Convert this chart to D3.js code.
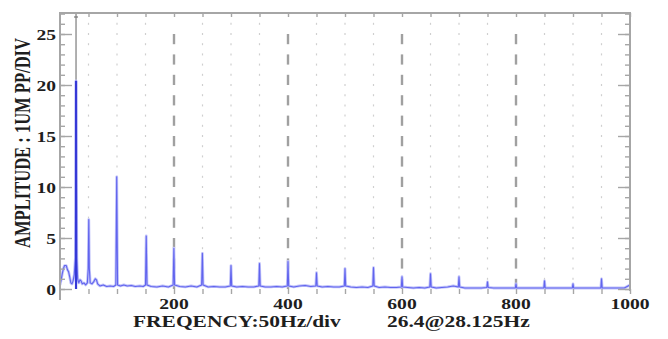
<!DOCTYPE html>
<html>
<head>
<meta charset="utf-8">
<script src="https://cdn.jsdelivr.net/npm/d3@7/dist/d3.min.js"></script>
<style>
  html, body { margin: 0; padding: 0; background: #fff; }
  svg { display: block; }
  text { font-family: "Liberation Serif", "Times New Roman", serif; font-weight: bold; fill: #1e1e1e; }
</style>
</head>
<body>
<svg id="chart" width="668" height="339"></svg>
<script>
// Vibration spectrum: frequency (Hz) and amplitude (um pp)
const freqHz = [
  0, 2, 4, 6, 8, 11, 13, 15, 17, 19, 21, 23, 25, 27, 28.125, 29.5, 31, 33, 35, 37, 39, 42, 45, 48,
  49.5, 50.5, 51.5, 53, 56, 59, 62, 64, 66, 70, 76, 82, 88, 94, 98, 99.5, 101, 106, 112, 118, 125,
  132, 140, 146, 150, 151.3, 152.6, 160, 170, 180, 190, 198.5, 199.8, 201, 210, 220, 230, 240,
  248.5, 249.8, 251, 260, 270, 280, 290, 298.8, 300, 301.2, 310, 320, 330, 340, 348.8, 350, 351.2,
  360, 370, 380, 390, 398.8, 400, 401.2, 410, 420, 430, 440, 448.8, 450, 451.2, 460, 470, 480, 490,
  498.8, 500, 501.2, 510, 520, 530, 540, 548.8, 550, 551.2, 560, 570, 580, 590, 598.8, 600, 601.2,
  610, 620, 630, 640, 648.8, 650, 651.2, 660, 670, 680, 690, 698.8, 700, 701.2, 710, 720, 730, 740,
  748.8, 750, 751.2, 760, 780, 798.8, 800, 801.2, 820, 840, 848.8, 850, 851.2, 870, 890, 898.8, 900,
  901.2, 920, 940, 948.8, 950, 951.2, 970, 990, 1000
];
const amplitude = [
  0.4, 0.9, 1.5, 2.0, 2.3, 2.3, 1.9, 1.7, 1.2, 0.6, 0.5, 0.8, 1.4, 3.0, 20.4, 3.0, 1.0, 0.6, 0.9, 0.8, 0.5, 0.6, 0.4, 0.6,
  2.0, 6.8, 2.0, 0.6, 0.5, 0.7, 1.0, 0.9, 0.5, 0.3, 0.4, 0.25, 0.3, 0.25, 0.4, 11.0, 0.4, 0.3, 0.4, 0.3, 0.35,
  0.25, 0.3, 0.25, 0.4, 5.2, 0.4, 0.25, 0.2, 0.3, 0.2, 0.4, 4.0, 0.4, 0.25, 0.2, 0.3, 0.2,
  0.4, 3.5, 0.4, 0.2, 0.25, 0.2, 0.2, 0.3, 2.3, 0.3, 0.2, 0.25, 0.2, 0.2, 0.3, 2.5, 0.3,
  0.2, 0.2, 0.25, 0.2, 0.3, 2.7, 0.3, 0.2, 0.3, 0.35, 0.25, 0.3, 1.6, 0.3, 0.2, 0.25, 0.2, 0.2,
  0.3, 2.0, 0.3, 0.2, 0.15, 0.2, 0.15, 0.3, 2.1, 0.3, 0.15, 0.2, 0.15, 0.15, 0.2, 1.2, 0.2,
  0.15, 0.1, 0.15, 0.1, 0.2, 1.5, 0.2, 0.1, 0.15, 0.2, 0.3, 0.2, 1.2, 0.2, 0.1, 0.1, 0.1, 0.1,
  0.15, 0.7, 0.15, 0.1, 0.1, 0.1, 0.5, 0.1, 0.1, 0.1, 0.1, 0.8, 0.1, 0.1, 0.1, 0.1, 0.5,
  0.1, 0.1, 0.1, 0.1, 1.0, 0.1, 0.1, 0.1, 0.4
];
const xTickLabels = [200, 400, 600, 800, 1000];
const yTickLabels = [0, 5, 10, 15, 20, 25];
const cursorFreq = 28.125;
const cursorReadout = "26.4@28.125Hz";
const xTitle = "FREQENCY:50Hz/div";
const yTitle = "AMPLITUDE : 1UM PP/DIV";

const svg = d3.select("#chart");
const plotLeft = 60, plotRight = 630, plotTop = 13;
const x = d3.scaleLinear().domain([0, 1000]).range([plotLeft, plotRight]);
const y = d3.scaleLinear().domain([0, 27]).range([289, 13.6]);
const frameColor = "#a6a6a6";
const stretch = 1.3;

// stretch a text element horizontally by a factor
function widen(sel, k) {
  sel.each(function () {
    const len = this.getComputedTextLength();
    d3.select(this).attr("textLength", len * k).attr("lengthAdjust", "spacingAndGlyphs");
  });
}

const fine = d3.range(50, 1000, 50);
const major = fine.filter(f => f % 200 === 0);
const minor = fine.filter(f => f % 200 !== 0);
const units = d3.range(1, 27);

// light dotted grid at every 50 Hz
const grid = svg.append("g");
minor.forEach(f => {
  grid.append("g").selectAll("line").data(units).join("line")
    .attr("x1", x(f)).attr("x2", x(f))
    .attr("y1", d => y(d) - 1).attr("y2", d => y(d) + 1)
    .attr("stroke", "#cfcfcf").attr("stroke-width", 1.2);
});
// heavy dashed grid at every 200 Hz
const evenUnits = d3.range(0, 25, 2);
major.forEach(f => {
  grid.append("g").selectAll("line").data(evenUnits).join("line")
    .attr("x1", x(f)).attr("x2", x(f))
    .attr("y1", d => y(d)).attr("y2", d => y(d + 1))
    .attr("stroke", "#a0a0a0").attr("stroke-width", 2.4);
});

// cursor line at the dominant frequency
svg.append("line")
  .attr("x1", x(cursorFreq)).attr("x2", x(cursorFreq))
  .attr("y1", plotTop).attr("y2", y(0))
  .attr("stroke", "#9c9c9c").attr("stroke-width", 1.6);
svg.append("line")
  .attr("x1", x(cursorFreq) - 2).attr("x2", x(cursorFreq) + 2)
  .attr("y1", plotTop + 4).attr("y2", plotTop + 4)
  .attr("stroke", "#777").attr("stroke-width", 1.2);

// spectrum trace
const pts = freqHz.map((f, i) => ({ f, a: amplitude[i] }));
const line = d3.line().x(d => x(d.f)).y(d => y(d.a));
svg.append("path").datum(pts).attr("d", line)
  .attr("fill", "none").attr("stroke", "#c2c4fa").attr("stroke-width", 2.8)
  .attr("stroke-linejoin", "round");
svg.append("path").datum(pts).attr("d", line)
  .attr("fill", "none").attr("stroke", "#6164ee").attr("stroke-width", 1.1)
  .attr("stroke-linejoin", "round");
// dominant peak highlighted at the cursor
const peak = pts.find(d => d.f === cursorFreq);
svg.append("line")
  .attr("x1", x(peak.f)).attr("x2", x(peak.f))
  .attr("y1", y(0)).attr("y2", y(peak.a))
  .attr("stroke", "#3538d6").attr("stroke-width", 2.2);

// frame
svg.append("line").attr("x1", plotLeft).attr("x2", plotRight).attr("y1", plotTop).attr("y2", plotTop)
  .attr("stroke", frameColor).attr("stroke-width", 2);
svg.append("line").attr("x1", plotLeft).attr("x2", plotLeft).attr("y1", plotTop - 1).attr("y2", 300)
  .attr("stroke", frameColor).attr("stroke-width", 2);
svg.append("line").attr("x1", plotRight).attr("x2", plotRight).attr("y1", plotTop - 1).attr("y2", y(0) + 2)
  .attr("stroke", frameColor).attr("stroke-width", 2);

// axis ticks (drawn inward)
function tickAxis(axis, tx, ty) {
  const a = svg.append("g").attr("transform", `translate(${tx},${ty})`).call(axis);
  a.select(".domain").remove();
  a.selectAll(".tick line").attr("stroke", frameColor).attr("stroke-width", 1.4);
  a.selectAll(".tick text").remove();
  return a;
}
const yMinor = d3.range(0, 28);
tickAxis(d3.axisRight(y).tickValues(yMinor).tickSize(5), plotLeft, 0);
tickAxis(d3.axisRight(y).tickValues(yTickLabels).tickSize(12), plotLeft, 0);
tickAxis(d3.axisLeft(y).tickValues(yMinor).tickSize(5), plotRight, 0);
tickAxis(d3.axisLeft(y).tickValues(yTickLabels).tickSize(12), plotRight, 0);
tickAxis(d3.axisBottom(x).tickValues(fine.concat([1000])).tickSize(4), 0, plotTop);
tickAxis(d3.axisBottom(x).tickValues(fine.concat([1000])).tickSize(5), 0, y(0));

// tick labels
svg.append("g").selectAll("text").data(yTickLabels).join("text")
  .attr("x", 56).attr("y", d => y(d) + 5.5)
  .attr("text-anchor", "end").attr("font-size", 15)
  .text(d => d).call(widen, stretch);
svg.append("g").selectAll("text").data(xTickLabels).join("text")
  .attr("x", d => x(d)).attr("y", 308.5)
  .attr("text-anchor", "middle").attr("font-size", 14)
  .text(d => d).call(widen, 1.4);

// titles
svg.append("text").attr("x", 133).attr("y", 327).attr("font-size", 16.5)
  .text(xTitle).call(widen, 1.3);
svg.append("text").attr("x", 387).attr("y", 327).attr("font-size", 16.5)
  .text(cursorReadout).call(widen, 1.3);
svg.append("g").attr("transform", "translate(30,143) scale(1.45,1) rotate(-90)")
  .append("text").attr("x", 0).attr("y", 0).attr("text-anchor", "middle")
  .attr("font-size", 16.5).text(yTitle).attr("textLength", 210).attr("lengthAdjust", "spacingAndGlyphs");
</script>
</body>
</html>
